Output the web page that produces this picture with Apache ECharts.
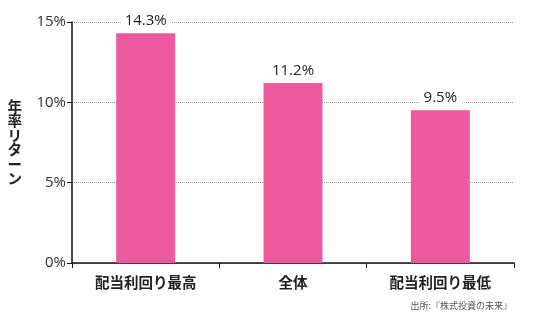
<!DOCTYPE html>
<html><head><meta charset="utf-8">
<script src="https://cdn.jsdelivr.net/npm/echarts@6/dist/echarts.min.js"></script>
<style>html,body{margin:0;padding:0;background:#fff}#c{width:540px;height:325px}</style>
</head><body><div id="c"></div>
<script>
const categories = ['配当利回り最高', '全体', '配当利回り最低'];
const values = [14.3, 11.2, 9.5];
const yTicks = [0, 5, 10, 15];
const yName = '年率リターン';
const source = '出所:『株式投資の未来』';

const font = '"Noto Sans CJK JP", "Noto Sans", sans-serif';
const numFont = '"Open Sans", "Noto Sans", sans-serif';
const chart = echarts.init(document.getElementById('c'), null, {renderer: 'canvas'});
chart.setOption({
  animation: false,
  grid: {left: 72, right: 26, top: 22, bottom: 62},
  xAxis: {
    type: 'category',
    data: categories,
    axisLine: {lineStyle: {color: '#111', width: 1.5}},
    axisTick: {show: true, length: 5, lineStyle: {color: '#111', width: 1}},
    axisLabel: {color: '#222', fontSize: 14.5, fontWeight: 'bold', margin: 12, fontFamily: font}
  },
  yAxis: {
    type: 'value',
    min: yTicks[0], max: yTicks[yTicks.length - 1], interval: 5,
    name: yName.split('').join('\n'),
    nameLocation: 'middle',
    nameRotate: 0,
    nameGap: 50,
    nameTextStyle: {color: '#222', fontSize: 14.5, fontWeight: 'bold', lineHeight: 14.5, fontFamily: font},
    axisLine: {show: true, lineStyle: {color: '#111', width: 1.5}},
    axisTick: {show: true, length: 5, lineStyle: {color: '#111'}},
    axisLabel: {formatter: '{value}%', color: '#333', fontSize: 15, margin: 6, fontFamily: numFont},
    splitLine: {show: true, lineStyle: {color: '#999', type: [1, 1], width: 1}}
  },
  series: [{
    type: 'bar',
    data: values,
    barWidth: '40%',
    itemStyle: {color: '#EC5A9E'},
    label: {
      show: true, position: 'top', distance: 5,
      formatter: p => p.value.toFixed(1) + '%',
      color: '#222', fontSize: 15, fontFamily: numFont,
      backgroundColor: '#fff', padding: [0, 4]
    }
  }],
  graphic: [{
    type: 'text', right: 28, top: 301,
    style: {text: source, fontSize: 9, fill: '#555', fontFamily: font}
  }]
});
</script></body></html>
